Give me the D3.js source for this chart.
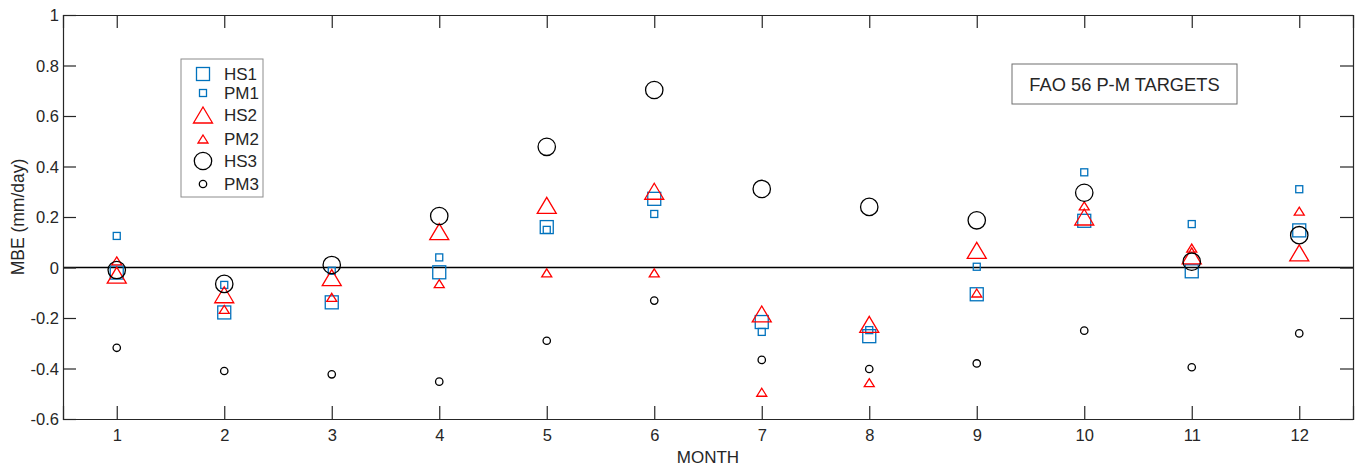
<!DOCTYPE html>
<html><head><meta charset="utf-8">
<script src="https://cdn.jsdelivr.net/npm/d3@7"></script>
<style>body{margin:0;background:#fff}svg{display:block}text{font-family:"Liberation Sans",Arial,sans-serif;fill:#262626}</style>
</head><body><svg id="c" width="1363" height="471"></svg>
<script>
const months = [1,2,3,4,5,6,7,8,9,10,11,12];
const HS1 = [-0.02,-0.178,-0.138,-0.019,0.16,0.272,-0.216,-0.272,-0.106,0.185,-0.015,0.147];
const PM1 = [0.125,-0.069,-0.013,0.04,0.149,0.212,-0.255,-0.248,0.003,0.377,0.172,0.31];
const HS2 = [-0.03,-0.108,-0.04,0.142,0.246,0.302,-0.184,-0.225,0.068,0.2,0.046,0.058];
const PM2 = [0.026,-0.166,-0.118,-0.064,-0.021,-0.021,-0.494,-0.456,-0.101,0.244,0.077,0.223];
const HS3 = [-0.01,-0.065,0.01,0.204,0.478,0.703,0.311,0.24,0.187,0.296,0.023,0.128];
const PM3 = [-0.318,-0.41,-0.423,-0.452,-0.29,-0.131,-0.366,-0.402,-0.38,-0.25,-0.395,-0.261];
const yTicks = [-0.6,-0.4,-0.2,0,0.2,0.4,0.6,0.8,1];
const seriesNames = ["HS1","PM1","HS2","PM2","HS3","PM3"];

const L=63,R=1353,T=15,B=419;
const x=d3.scaleLinear().domain([0.5,12.5]).range([L,R]);
const y=d3.scaleLinear().domain([-0.6,1]).range([B,T]);
const svg=d3.select("#c");
const ax="#262626";
const FF='"Liberation Sans",Arial,sans-serif';

// zero line
svg.append("line").attr("x1",L).attr("x2",R).attr("y1",y(0)).attr("y2",y(0)).attr("stroke","#000").attr("stroke-width",1.3);

// axes with inside ticks
const xb=svg.append("g").attr("transform",`translate(0,${B})`).call(d3.axisBottom(x).tickValues(months).tickSize(-13).tickPadding(10).tickFormat(d3.format("d")));
const xt=svg.append("g").attr("transform",`translate(0,${T})`).call(d3.axisTop(x).tickValues(months).tickSize(-13).tickFormat(""));
const yl=svg.append("g").attr("transform",`translate(${L},0)`).call(d3.axisLeft(y).tickValues(yTicks).tickSize(-13).tickPadding(4).tickFormat(d=>d===0?"0":String(+d.toFixed(1))));
const yr=svg.append("g").attr("transform",`translate(${R},0)`).call(d3.axisRight(y).tickValues(yTicks).tickSize(-13).tickFormat(""));
[xb,xt,yl,yr].forEach(g=>{g.attr("font-size",null).attr("font-family",null);g.selectAll("path").attr("stroke",ax).attr("stroke-width",1.2);g.selectAll("line").attr("stroke",ax).attr("stroke-width",1.2);g.selectAll("text").style("font-size","16.5px").attr("fill",ax).style("font-family",FF);});
yl.selectAll("text").attr("dy","0.35em");

svg.append("text").attr("x",(L+R)/2).attr("y",463).attr("text-anchor","middle").style("font-size","17px").text("MONTH");
svg.append("text").attr("transform",`translate(24,${(T+B)/2}) rotate(-90)`).attr("text-anchor","middle").style("font-size","17.5px").text("MBE (mm/day)");

const BLUE="#0072BD",RED="#FF0000",BLK="#000";
const styles={
 HS1:{shape:"sq",s:13,c:BLUE}, PM1:{shape:"sq",s:7,c:BLUE},
 HS2:{shape:"tri",w:19,h:16,c:RED}, PM2:{shape:"tri",w:10,h:8,c:RED},
 HS3:{shape:"ci",r:8.7,c:BLK}, PM3:{shape:"ci",r:3.7,c:BLK}
};
function mark(g,st,cx,cy){
 if(st.shape==="sq") g.append("rect").attr("x",cx-st.s/2).attr("y",cy-st.s/2).attr("width",st.s).attr("height",st.s).attr("fill","none").attr("stroke",st.c).attr("stroke-width",1.3);
 else if(st.shape==="tri") g.append("path").attr("d",`M${cx},${cy-st.h/2}L${cx+st.w/2},${cy+st.h/2}L${cx-st.w/2},${cy+st.h/2}Z`).attr("fill","none").attr("stroke",st.c).attr("stroke-width",1.3);
 else g.append("circle").attr("cx",cx).attr("cy",cy).attr("r",st.r).attr("fill","none").attr("stroke",st.c).attr("stroke-width",1.3);
}
const data={HS1,PM1,HS2,PM2,HS3,PM3};
const pg=svg.append("g");
seriesNames.forEach(n=>{data[n].forEach((v,i)=>mark(pg,styles[n],x(months[i]),y(v)));});

// legend
const lg=svg.append("g");
lg.append("rect").attr("x",181).attr("y",59).attr("width",82).attr("height",138).attr("fill","#fff").attr("stroke","#8c8c8c").attr("stroke-width",1);
const ly=[74,93,115,139,161,184];
seriesNames.forEach((n,i)=>{mark(lg,styles[n],203,ly[i]);lg.append("text").attr("x",224).attr("y",ly[i]).attr("dy","0.36em").style("font-size","17px").attr("fill","#000").text(n);});

// annotation box
svg.append("rect").attr("x",1012).attr("y",64).attr("width",225).attr("height",40).attr("fill","#fff").attr("stroke","#6e6e6e").attr("stroke-width",1);
svg.append("text").attr("x",1124.5).attr("y",84).attr("dy","0.36em").attr("text-anchor","middle").style("font-size","18.3px").attr("fill","#000").text("FAO 56 P-M TARGETS");
</script></body></html>
